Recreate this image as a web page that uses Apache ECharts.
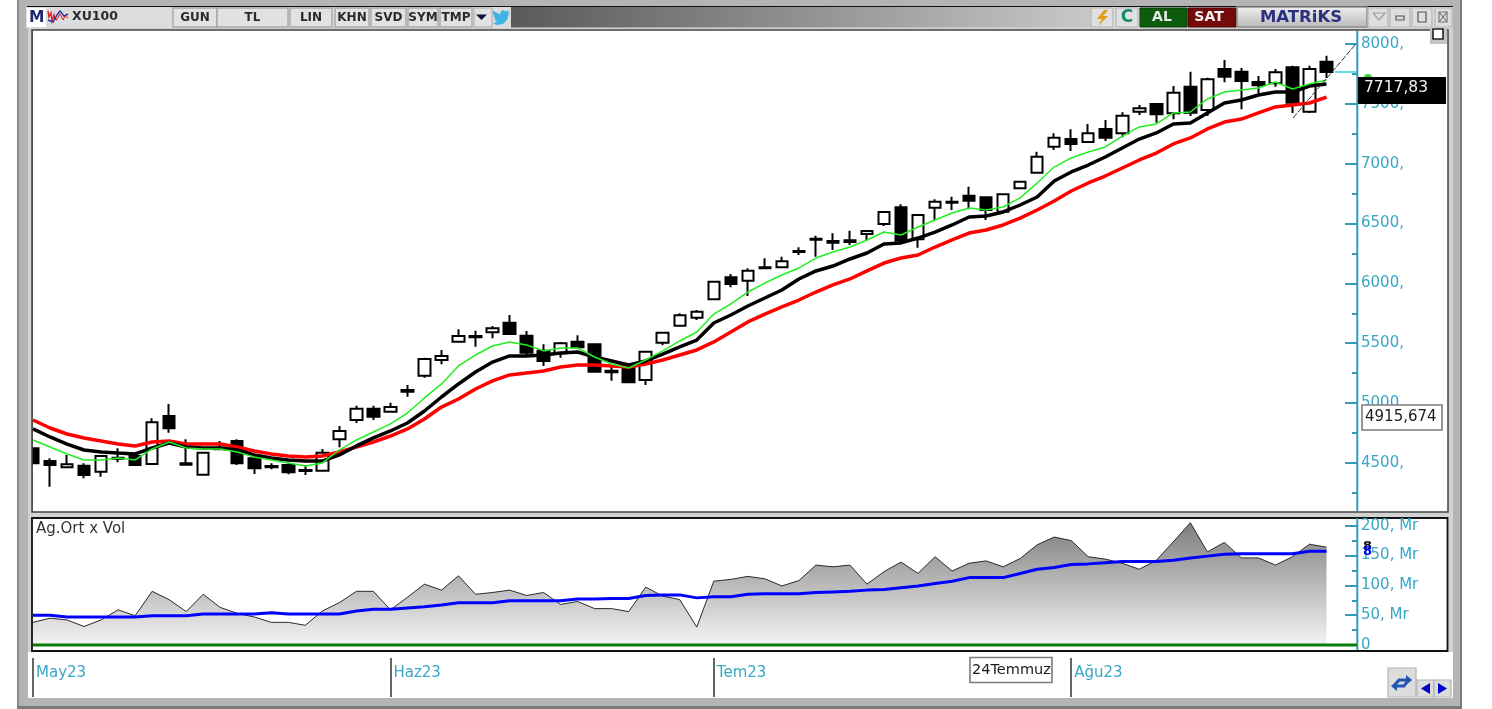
<!DOCTYPE html>
<html><head><meta charset="utf-8">
<style>html,body{margin:0;padding:0;background:#fff;overflow:hidden}#c{width:1492px;height:709px}</style>
<script src="https://cdn.jsdelivr.net/npm/echarts@6/dist/echarts.min.js"></script>
</head><body><div id="c"></div>
<script>
const categories = [
'May 2','May 3','May 4','May 5','May 8','May 9','May 10','May 11','May 12','May 15','May 16','May 17','May 18','May 22','May 23','May 24','May 25','May 26','May 29','May 30','May 31',
'Jun 1','Jun 2','Jun 5','Jun 6','Jun 7','Jun 8','Jun 9','Jun 12','Jun 13','Jun 14','Jun 15','Jun 16','Jun 19','Jun 20','Jun 21','Jun 22','Jun 23','Jun 26','Jun 27',
'Jul 3','Jul 4','Jul 5','Jul 6','Jul 7','Jul 10','Jul 11','Jul 12','Jul 13','Jul 14','Jul 17','Jul 18','Jul 19','Jul 20','Jul 21','Jul 24','Jul 25','Jul 26','Jul 27','Jul 28','Jul 31',
'Aug 1','Aug 2','Aug 3','Aug 4','Aug 7','Aug 8','Aug 9','Aug 10','Aug 11','Aug 14','Aug 15','Aug 16','Aug 17','Aug 18','Aug 21','Aug 22','',' '];
const monthStarts = [0,21,40,61];
const monthLabels = ['May23','Haz23','Tem23','Ağu23'];

const opens = [4622,4516,4464,4477,4427,4544,4558,4491,4892,4497,4402,4614,4684,4539,4475,4483,4441,4435,4698,4859,4953,4928,5110,5229,5360,5513,5561,5592,5672,5563,5438,5416,5513,5491,5271,5304,5193,5505,5647,5714,5867,6051,6023,6126,6134,6271,6365,6354,6360,6413,6496,6636,6368,6632,6683,6733,6719,6599,6795,6925,7142,7206,7181,7290,7254,7434,7499,7421,7643,7449,7791,7769,7683,7672,7805,7434,7852];
const closes = [4497,4483,4489,4399,4558,4536,4483,4840,4790,4485,4586,4627,4497,4455,4464,4422,4433,4586,4767,4953,4886,4968,5095,5369,5394,5561,5550,5625,5577,5421,5352,5500,5466,5262,5257,5174,5430,5588,5734,5764,6014,5995,6106,6134,6185,6262,6374,6340,6346,6438,6597,6357,6571,6683,6674,6691,6613,6744,6850,7059,7217,7165,7254,7217,7401,7463,7413,7593,7426,7705,7727,7691,7655,7764,7510,7791,7766];
const lows   = [4497,4302,4464,4372,4385,4506,4483,4491,4753,4485,4402,4614,4483,4408,4447,4405,4399,4435,4631,4834,4859,4926,5054,5212,5324,5513,5471,5541,5577,5402,5310,5379,5466,5262,5187,5174,5151,5483,5647,5694,5867,5967,5895,6126,6134,6237,6223,6279,6321,6357,6480,6340,6298,6530,6613,6619,6530,6599,6795,6925,7114,7106,7181,7190,7220,7407,7343,7371,7399,7399,7680,7454,7588,7643,7424,7424,7716];
const highs  = [4622,4539,4566,4497,4566,4622,4558,4873,4993,4698,4586,4684,4698,4539,4497,4500,4483,4617,4809,4978,4978,5002,5151,5379,5444,5617,5605,5644,5736,5602,5491,5510,5566,5491,5318,5304,5438,5588,5750,5778,6014,6078,6126,6210,6223,6302,6399,6418,6440,6438,6597,6661,6571,6703,6724,6808,6719,6744,6850,7100,7254,7287,7332,7365,7429,7490,7499,7649,7769,7718,7866,7800,7733,7791,7819,7819,7902];

const redAvg = [4859,4792,4742,4709,4684,4658,4642,4675,4684,4658,4658,4658,4633,4600,4575,4558,4550,4558,4592,4633,4675,4725,4784,4867,4967,5034,5118,5185,5235,5252,5268,5302,5318,5318,5310,5302,5327,5360,5402,5444,5511,5594,5678,5744,5803,5861,5928,5987,6037,6104,6170,6212,6237,6304,6363,6421,6446,6488,6546,6613,6688,6772,6839,6897,6964,7031,7089,7165,7215,7290,7348,7373,7424,7474,7490,7507,7557];
const blackAvg = [4784,4717,4658,4608,4592,4583,4575,4625,4667,4633,4625,4625,4608,4567,4541,4525,4516,4516,4567,4642,4709,4767,4834,4934,5051,5160,5260,5343,5394,5394,5402,5419,5427,5385,5352,5318,5352,5410,5469,5527,5669,5736,5811,5878,5945,6037,6104,6145,6204,6254,6329,6338,6379,6429,6488,6555,6563,6597,6655,6722,6856,6931,6989,7056,7131,7206,7257,7332,7340,7424,7507,7532,7574,7599,7599,7649,7666];
const greenAvg = [4692,4633,4575,4525,4525,4541,4525,4617,4675,4625,4617,4617,4592,4550,4525,4500,4475,4500,4608,4692,4759,4826,4917,5043,5160,5310,5402,5477,5511,5486,5436,5460,5460,5385,5327,5293,5360,5436,5519,5594,5744,5828,5928,6003,6070,6129,6212,6262,6304,6363,6429,6404,6471,6530,6588,6630,6613,6638,6714,6839,6972,7048,7098,7140,7231,7307,7332,7424,7432,7541,7599,7616,7632,7683,7624,7666,7699];

const volume = [38,45,42,31,42,59,49,90,76,56,85,63,53,47,38,38,33,57,71,90,90,59,80,102,92,116,85,88,92,83,88,68,73,61,61,56,97,82,76,30,107,110,115,111,99,108,134,131,134,102,123,139,120,148,124,137,141,131,145,168,181,175,148,144,137,127,142,173,205,156,172,146,146,134,148,169,164];
const volAvg = [50,50,47,47,47,47,47,49,49,49,52,52,52,52,54,52,52,52,52,57,60,60,62,64,67,71,71,71,74,74,74,74,77,77,78,78,83,84,84,79,81,81,85,86,86,86,88,89,90,92,93,96,99,103,107,113,113,113,120,127,130,135,136,138,140,140,140,142,146,149,152,153,153,153,153,157,157];

const priceTicks = {min:4000,max:8000,step:500};
const volTicks = {min:0,max:200,step:50};
const axisBlue = '#38a6c6';
const tickBlue = '#2e9dbd';
const UI = 'DejaVu Sans';

const candles = opens.map((o,i)=>[o,closes[i],lows[i],highs[i]]);

/* ---------- window chrome (not data) ---------- */
const els = [];
function R(x,y,w,h,fill,stroke,z,lw){els.push({type:'rect',silent:true,z:z==null?-4:z,shape:{x,y,width:w,height:h},style:{fill:fill||'transparent',stroke:stroke||null,lineWidth:lw||1}});}
function T(x,y,s,font,fill,align,z){els.push({type:'text',silent:true,z:z==null?6:z,x,y,style:{text:s,font,fill,align:align||'left',verticalAlign:'middle'}});}
function L(a,b,c,d,col,w,z,dash){els.push({type:'line',silent:true,z:z==null?6:z,shape:{x1:a,y1:b,x2:c,y2:d},style:{stroke:col,lineWidth:w||1,lineDash:dash||null}});}
function P(pts,fill,z){els.push({type:'polygon',silent:true,z:z==null?6:z,shape:{points:pts},style:{fill}});}
function PL(pts,col,w,z){els.push({type:'polyline',silent:true,z:z==null?6:z,shape:{points:pts},style:{stroke:col,lineWidth:w,fill:'transparent'}});}
const grad=(a,b,horizontal)=>({type:'linear',x:0,y:0,x2:horizontal?1:0,y2:horizontal?0:1,colorStops:[{offset:0,color:a},{offset:1,color:b}]});

// outer frame
R(17,0,1445,709,'#b4b4b4',null,-6);
R(17,0,2,709,'#8a8a8a',null,-5.5);
R(1460,0,2,709,'#7a7a7a',null,-5.5);
R(17,706,1445,3,'#7a7a7a',null,-5.5);
R(27,6,1426,1.5,'#111',null,-5);
R(26,7,1427,21,'#dcdcdc',null,-5);
// panels
R(28,28,1425,670,'#d2d2d2',null,-4.9);
R(32,30,1416,482,'#ffffff','#444',-4,1.5);
R(28,652,1425,46,'#ffffff',null,-4);
// left margin of the main panel, on top of the half-cut first candle
R(19,31,9,481,'#b4b4b4',null,2.5);
R(28,31,4,481,'#d2d2d2',null,2.5);
L(32,30,32,512,'#444',1.5,2.6);
// main panel's bottom cover + volume panel
R(32,518,1415.5,133,'#ffffff','#111',1,1.8);
// toolbar
R(27,8,19,19,'#ffffff',null,-3);
T(29,17.5,'M','bold 15.5px "'+UI+'"','#1e2a6e','left');
PL([[48,11],[49,17],[51,13],[52,21],[54,15],[55,19],[57,20]],'#d82020',1.4);
PL([[48,20],[53,22],[57,15],[60,11],[64,16],[68,14]],'#2638a0',1.4);
PL([[57,19],[60,14],[63,20],[65,16],[68,18]],'#d82020',1);
T(72,17,'XU100','bold 12.5px "'+UI+'"','#2a2a2a','left');
const btn=[[173,44,'GUN'],[217,71,'TL'],[290,42,'LIN'],[335,34,'KHN'],[371,35,'SVD'],[408,30,'SYM'],[440,32,'TMP']];
btn.forEach(b=>{R(b[0],8,b[1],19,'#e2e2e2','#a8a8a8',-3,1.4);T(b[0]+b[1]/2,17.5,b[2],'bold 12px "'+UI+'"','#2a2a2a','center');});
R(474,8,18,19,'#e2e2e2','#a8a8a8',-3,1);
P([[476,14.5],[487,14.5],[481.5,20]],'#10103a');
P([[510,12],[507.5,13],[509,10],[506,11.5],[503,10],[500.5,12],[500.5,14.5],[495,12],[493,10.5],[493,14],[494.5,16.5],[493.5,16.5],[495.5,19.5],[494.5,20],[497,21.5],[493,23.5],[497,25],[503,24],[507,20],[508.5,14.5]],'#3fb2e6');
R(511,7,580,20.5,grad('#5a5a5a','#c8c8c8',true),null,-3);
// right toolbar
R(1091,8,22,19,'#e0e0e0','#b0b0b0',-3);
P([[1104,10],[1097,19],[1102,19],[1098,26],[1108,16],[1103,16],[1108,10]],'#e39a17');
R(1116,8,22,19,'#e0e0e0','#b0b0b0',-3);
T(1127,17.5,'C','bold 17px "'+UI+'"','#0f8a6a','center');
R(1140,8,47,19,'#0d5c0d','#084008',-3);
T(1162,17.5,'AL','bold 14px "'+UI+'"','#e8e8e8','center');
R(1188,8,48,19,'#750a0a','#4c0606',-3);
T(1209,17.5,'SAT','bold 14px "'+UI+'"','#f0f0f0','center');
R(1237,7,130,20,grad('#f0f0f0','#b8b8b8'),'#8c8c8c',-3,1.4);
T(1301,17.5,'MATRiKS','bold 16.5px "'+UI+'"','#2b3180','center');
[[1368,20],[1390,20],[1412,20],[1435,17]].forEach(b=>R(b[0],8,b[1],19,'#dedede','#b4b4b4',-3,1.2));
PL([[1373,13],[1385,13],[1379,20],[1373,13]],'#a0a0a0',1.2);
R(1396,16,8,4,'transparent','#555',6,1.2);
R(1418,12,8,10,'transparent','#555',6,1.2);
R(1439,12,8,10,'transparent','#777',6,1.2);
L(1439,12,1447,22,'#777',1.2);L(1447,12,1439,22,'#777',1.2);
// corner button of main panel
R(1430,28,17,16,'#c4c4c4',null,6);
R(1433,29,10,10,'#fff','#222',6,1.6);
// main & volume axis spines
L(1357.3,31,1357.3,511,tickBlue,2,0);
L(1357.3,518,1357.3,650,tickBlue,2,3);
// green zero line of the lower panel
L(33,645,1357,645,'#0a7d0a',3,5.5);
// price annotations
L(1293,118,1355,45,'#333',1,8,[6,1.5]);
L(1335,72,1356,72,'#62dfe8',2,8);
els.push({type:'circle',silent:true,z:8,shape:{cx:1368,cy:78,r:4},style:{fill:'#22dd22'}});
R(1358,77,88,27,'#000',null,9);
T(1364,87.5,'7717,83','15.5px "'+UI+'"','#f2f2f2','left',10);
R(1362,405,80,25,'#fff','#7c7c7c',9,1.6);
T(1365,417.5,'4915,674','15px "'+UI+'"','#1c1c1c','left',10);
// volume panel
T(36,529,'Ag.Ort x Vol','15px "'+UI+'"','#333','left',6);
T(1363,547,'8','bold 13px "'+UI+'"','#111','left',8);
T(1363,552,'8','bold 13px "'+UI+'"','#0000ee','left',8);
// date tag
R(970,657.5,82,25,'#fff','#7c7c7c',6,1.6);
T(972,670,'24Temmuz','14.5px "'+UI+'"','#1c1c1c','left',7);
// lower-right buttons
R(1388,668,28,29,'#dcdcdc','#b4b4b4',6,1.2);
PL([[1394,686],[1399,680],[1407,680]],'#1f55b0',3,7);
P([[1406,675],[1412,680],[1406,685]],'#1f55b0',7);
PL([[1409,679],[1404,686],[1396,686]],'#1f55b0',3,7);
P([[1397,681],[1391,686],[1397,691]],'#1f55b0',7);
R(1417,680,17,17,'#dcdcdc','#b4b4b4',6,1.2);
R(1434,680,17,17,'#dcdcdc','#b4b4b4',6,1.2);
P([[1430,683],[1430,694],[1421,688.5]],'#0000cc',7);
P([[1438,683],[1438,694],[1447,688.5]],'#0000cc',7);

/* ---------- chart ---------- */
const left = 33, width = 1327.56, axisShift = -3.56;
const grids = [
  {left,width,top:44,height:478.8},
  {left,width,top:525.7,height:119.3},
  {left,width,top:658,height:39}
];
const xBase = {type:'category',data:categories,boundaryGap:false,axisLine:{show:false},axisTick:{show:false},axisLabel:{show:false},splitLine:{show:false},axisPointer:{show:false}};
const labelFont = {color:axisBlue,fontFamily:UI,fontSize:15,margin:4};
function yAxis(idx,t,fmt,z,extra){
  return Object.assign({gridIndex:idx,type:'value',position:'right',offset:axisShift,min:t.min,max:t.max,interval:t.step,z,scale:true,
    axisLine:{show:false},splitLine:{show:false},minorSplitLine:{show:false},
    axisTick:{show:true,inside:true,length:12,lineStyle:{color:tickBlue,width:2}},
    minorTick:{show:true,splitNumber:2,length:5,lineStyle:{color:tickBlue,width:2}},
    axisLabel:Object.assign({show:true,formatter:fmt,hideOverlap:false},labelFont)},extra||{});
}
const option = {
  animation:false,
  backgroundColor:'transparent',
  graphic:{elements:els},
  grid:grids,
  xAxis:[
    Object.assign({},xBase,{gridIndex:0}),
    Object.assign({},xBase,{gridIndex:1}),
    Object.assign({},xBase,{gridIndex:2,
      axisTick:{show:true,inside:true,length:39,interval:i=>monthStarts.includes(i),lineStyle:{color:'#333',width:1.5}},
      axisLabel:{show:true,inside:true,margin:16,align:'left',padding:[0,0,0,3],interval:i=>monthStarts.includes(i),
        formatter:(v,i)=>monthLabels[monthStarts.indexOf(i)]||'',color:axisBlue,fontFamily:UI,fontSize:15,showMinLabel:true,hideOverlap:false}})
  ],
  yAxis:[
    yAxis(0,priceTicks,v=>v===priceTicks.min?'':v+',',0),
    yAxis(1,volTicks,v=>v===0?'0':v+', Mr',3),
    {gridIndex:2,type:'value',show:false}
  ],
  series:[
    {name:'XU100',type:'candlestick',xAxisIndex:0,yAxisIndex:0,z:2,silent:true,clip:true,barWidth:12,data:candles,
      itemStyle:{color:'#ffffff',color0:'#000000',borderColor:'#000000',borderColor0:'#000000',borderColorDoji:'#000000',borderWidth:2}},
    {name:'Ort3',type:'line',xAxisIndex:0,yAxisIndex:0,z:3,silent:true,data:redAvg,showSymbol:false,lineStyle:{color:'#ff0000',width:3.5}},
    {name:'Ort2',type:'line',xAxisIndex:0,yAxisIndex:0,z:3,silent:true,data:blackAvg,showSymbol:false,lineStyle:{color:'#000000',width:3.5}},
    {name:'Ort1',type:'line',xAxisIndex:0,yAxisIndex:0,z:3,silent:true,data:greenAvg,showSymbol:false,lineStyle:{color:'#22ee22',width:1.5}},
    {name:'Ag.Ort x Vol',type:'line',xAxisIndex:1,yAxisIndex:1,z:4,silent:true,clip:false,data:volume,showSymbol:false,
      lineStyle:{color:'#2a2a2a',width:1},
      areaStyle:{opacity:1,color:grad('#7e7e7e','#f4f4f4')}},
    {name:'Vol Ort',type:'line',xAxisIndex:1,yAxisIndex:1,z:5,silent:true,clip:false,data:volAvg,showSymbol:false,lineStyle:{color:'#0000ff',width:3}}
  ]
};
const chart = echarts.init(document.getElementById('c'),null,{renderer:'canvas',width:1492,height:709});
chart.setOption(option);
</script></body></html>
